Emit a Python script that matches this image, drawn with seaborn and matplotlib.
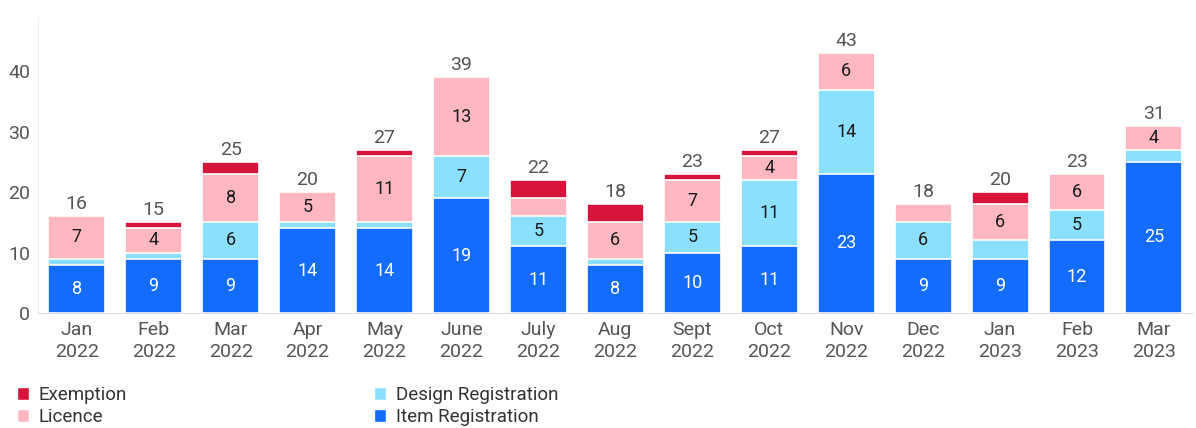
import numpy as np
import pandas as pd
import seaborn as sns
import matplotlib.pyplot as plt
from matplotlib.patches import Patch

months = ['Jan\n2022', 'Feb\n2022', 'Mar\n2022', 'Apr\n2022', 'May\n2022', 'June\n2022',
          'July\n2022', 'Aug\n2022', 'Sept\n2022', 'Oct\n2022', 'Nov\n2022', 'Dec\n2022',
          'Jan\n2023', 'Feb\n2023', 'Mar\n2023']
item = [8, 9, 9, 14, 14, 19, 11, 8, 10, 11, 23, 9, 9, 12, 25]
design = [1, 1, 6, 1, 1, 7, 5, 1, 5, 11, 14, 6, 3, 5, 2]
licence = [7, 4, 8, 5, 11, 13, 3, 6, 7, 4, 6, 3, 6, 6, 4]
exemption = [0, 1, 2, 0, 1, 0, 3, 3, 1, 1, 0, 0, 2, 0, 0]

series = ['Item Registration', 'Design Registration', 'Licence', 'Exemption']
colors = {'Item Registration': '#146cfd', 'Design Registration': '#8ce0ff',
          'Licence': '#ffb8c1', 'Exemption': '#d7153a'}

df = pd.DataFrame({'month': months, 'Item Registration': item,
                   'Design Registration': design, 'Licence': licence,
                   'Exemption': exemption})
# cumulative heights so the bars can be overlaid as a stack
cum = df[series].cumsum(axis=1)
cum['month'] = months

sns.set_style('white')
plt.rcParams['font.family'] = ['Roboto', 'DejaVu Sans']

fig = plt.figure(figsize=(11.96, 4.28), dpi=100)
ax = fig.add_axes([0.032, 0.269, 0.965, 0.691])

for s in reversed(series):
    sns.barplot(data=cum, x='month', y=s, order=months, color=colors[s], saturation=1,
                width=0.74, edgecolor='white', linewidth=1.2, errorbar=None, ax=ax)

# segment labels
for i in range(len(months)):
    bottom = 0
    for s in series:
        v = df[s][i]
        if v >= 4:
            ax.text(i, bottom + v / 2, str(v), ha='center', va='center', fontsize=13,
                    color='white' if s == 'Item Registration' else '#1a1a1a')
        bottom += v
    ax.text(i, bottom + 0.5, str(bottom), ha='center', va='bottom', fontsize=14, color='#555555')

ax.set_xlim(-0.5, len(months) - 0.5)
ax.set_ylim(0, 49)
ax.set_yticks([0, 10, 20, 30, 40])
ax.set_xlabel('')
ax.set_ylabel('')
ax.set_xticks(np.arange(-0.5, len(months)), minor=True)
for lab in ax.get_xticklabels():
    lab.set_linespacing(1.25)
ax.tick_params(axis='x', which='major', length=0, labelsize=14, labelcolor='#555555', pad=6)
ax.tick_params(axis='x', which='minor', length=4, color='#999999', width=1)
ax.tick_params(axis='y', length=4, color='#999999', labelsize=14, labelcolor='#555555', pad=2)
sns.despine(ax=ax, top=True, right=True)
ax.spines['left'].set_color('#eeeeee')
ax.spines['bottom'].set_color('#dddddd')

handles = [Patch(facecolor=colors[s], label=s) for s in ['Exemption', 'Licence', 'Design Registration', 'Item Registration']]
fig.legend(handles=handles, ncol=2, loc='upper left', bbox_to_anchor=(0.003, 0.128),
           frameon=False, fontsize=13.5, handlelength=0.65, handleheight=0.65,
           handletextpad=0.5, columnspacing=13.2, labelspacing=0.2, labelcolor='#333333',
           borderpad=0.2)

fig.savefig('out.png', dpi=100)
